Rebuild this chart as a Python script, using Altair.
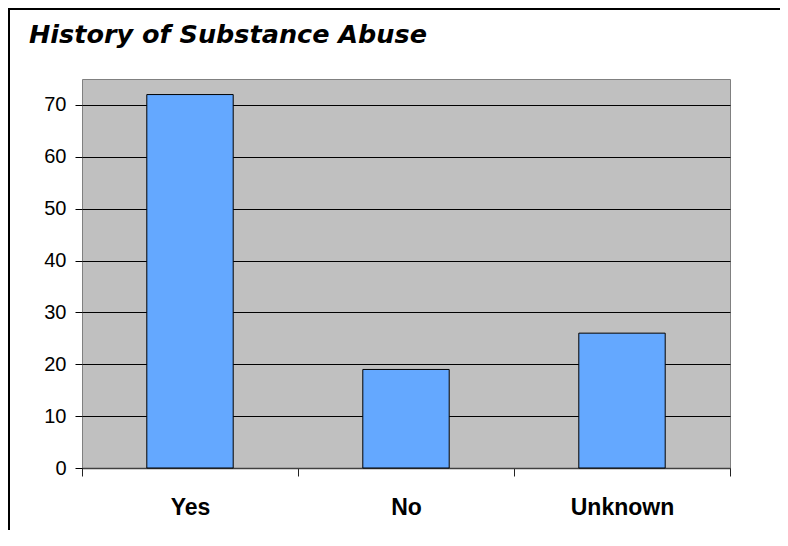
import altair as alt
import pandas as pd

categories = ["Yes", "No", "Unknown"]
counts = [72, 19, 26]
y_ticks = [0, 10, 20, 30, 40, 50, 60, 70]

df = pd.DataFrame({"category": categories, "count": counts})
frame_df = pd.DataFrame({"k": [0]})

x_enc = alt.X(
    "category:N",
    sort=categories,
    title=None,
    scale=alt.Scale(paddingInner=0, paddingOuter=0),
    axis=alt.Axis(
        tickBand="extent",
        labelAngle=0,
        labelFont="Liberation Sans",
        labelFontWeight="bold",
        labelFontSize=23,
        labelColor="black",
        labelBaseline="alphabetic",
        labelPadding=38,
        tickSize=8,
        tickColor="#222222",
        domainColor="#404040",
        domainWidth=1.5,
        grid=False,
    ),
)
y_enc = alt.Y(
    "count:Q",
    title=None,
    scale=alt.Scale(domain=[0, 75], nice=False),
    axis=alt.Axis(
        values=y_ticks,
        labelFont="Liberation Sans",
        labelFontSize=20,
        labelColor="black",
        labelPadding=9,
        tickSize=7,
        tickColor="black",
        domain=False,
        grid=True,
        gridColor="black",
        gridWidth=1,
        gridOpacity=1,
    ),
)

bars = alt.Chart(df).mark_bar(
    width=alt.RelativeBandSize(0.4),
    color="#64A8FF",
    stroke="black",
    strokeWidth=1,
).encode(x=x_enc, y=y_enc)

frame_left = alt.Chart(frame_df).mark_rule(color="black", strokeWidth=2).encode(
    x=alt.value(-73), y=alt.value(-70), y2=alt.value(600)
)
frame_top = alt.Chart(frame_df).mark_rule(color="black", strokeWidth=2).encode(
    x=alt.value(-74), x2=alt.value(800), y=alt.value(-70)
)

chart = alt.layer(bars, frame_left, frame_top).properties(
    width=648,
    height=389,
    background="white",
    title=alt.TitleParams(
        "History of Substance Abuse",
        anchor="start",
        frame="group",
        font="DejaVu Sans",
        fontSize=25.5,
        fontWeight="bold",
        fontStyle="italic",
        color="black",
        baseline="alphabetic",
        offset=-60,
        dx=-53,
    ),
    autosize=alt.AutoSizeParams(type="none"),
    padding={"left": 74, "top": 71, "right": 50, "bottom": 62},
).configure_view(
    fill="#C0C0C0", stroke="#808080", strokeWidth=1
)

chart.save("out.html", embed_options={"renderer": "svg", "actions": False})
